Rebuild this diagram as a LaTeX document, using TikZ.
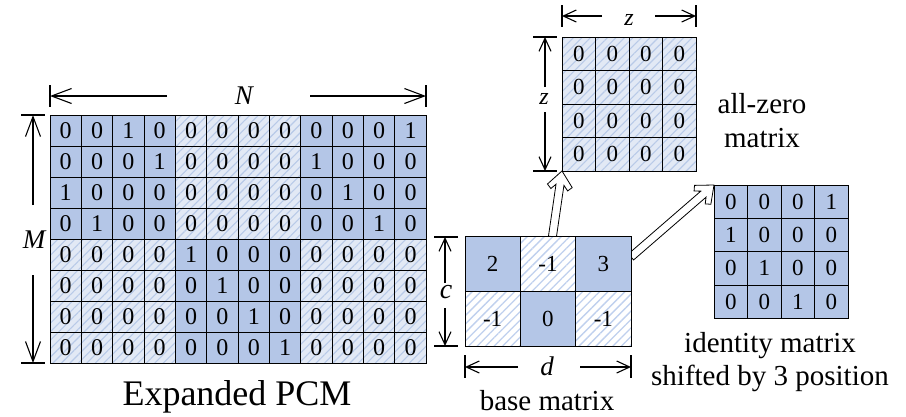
\documentclass[tikz,border=0pt]{standalone}
\usepackage{fontspec}
\setmainfont{Liberation Serif}
\usetikzlibrary{arrows.meta,patterns.meta,calc}
\pgfdeclarelayer{back}
\pgfsetlayers{back,main}

\definecolor{cellblue}{HTML}{B4C6E7}
\definecolor{hatchbg}{HTML}{E2E9F5}
\definecolor{hatchline}{HTML}{B8CAE8}
\definecolor{basehatch}{HTML}{BFD0EE}

\tikzset{
  cellbase/.style={draw=black, line width=0.8pt, inner sep=0pt, outer sep=0pt},
  darkcell/.style={cellbase, fill=cellblue},
  hatchcell/.style={cellbase, preaction={fill=hatchbg},
    pattern={Lines[angle=45,distance=6pt,line width=1.1pt]}, pattern color=hatchline},
  whitehatch/.style={cellbase, preaction={fill=white},
    pattern={Lines[angle=45,distance=6pt,line width=1.3pt]}, pattern color=basehatch},
  pcmcell/.style={minimum width=31.35pt, minimum height=31pt, font=\fontsize{24}{26}\selectfont},
  smallcell/.style={minimum width=33.5pt, minimum height=33.4pt, font=\fontsize{23}{26}\selectfont},
  basecell/.style={minimum width=55.33pt, minimum height=54.65pt, font=\fontsize{23}{26}\selectfont},
  caption/.style={anchor=base, inner sep=0pt, font=\fontsize{29}{34}\selectfont},
  dimlabel/.style={inner sep=0pt, font=\fontsize{27}{30}\selectfont\itshape},
  extline/.style={line width=1.1pt},
  dimline/.style={line width=1.1pt, -{Straight Barb[length=13pt,width=12pt]}},
  bigdimline/.style={line width=1.1pt, -{Straight Barb[length=20pt,width=15pt]}},
  hollow/.style={fill=white, draw=black, line width=0.8pt, line join=miter},
}

% outlined block arrow from #1 (tail) to #2 (tip)
\newcommand\hollowarrow[2]{%
  \coordinate (ha-k14) at ($(#2)!14pt!(#1)$);
  \coordinate (ha-k15) at ($(#2)!15pt!(#1)$);
  \coordinate (ha-k19) at ($(#2)!19pt!(#1)$);
  \begin{pgfonlayer}{back}
  \filldraw[hollow]
    ($(#1)!4pt!90:(#2)$) -- ($(ha-k14)!4pt!90:(#2)$) -- ($(ha-k19)!8.5pt!90:(#2)$)
    -- ($(ha-k15)!12.5pt!90:(#2)$) -- (#2) -- ($(ha-k15)!12.5pt!-90:(#2)$)
    -- ($(ha-k19)!8.5pt!-90:(#2)$) -- ($(ha-k14)!4pt!-90:(#2)$)
    -- ($(#1)!4pt!-90:(#2)$) -- cycle;
  \end{pgfonlayer}
}

\begin{document}
\begin{tikzpicture}[x=1pt,y=-1pt]
\useasboundingbox (0,0) rectangle (906,416);

% ---------------- expanded parity-check matrix ----------------
\foreach \rowvals [count=\r] in {
  {0,0,1,0,0,0,0,0,0,0,0,1},
  {0,0,0,1,0,0,0,0,1,0,0,0},
  {1,0,0,0,0,0,0,0,0,1,0,0},
  {0,1,0,0,0,0,0,0,0,0,1,0},
  {0,0,0,0,1,0,0,0,0,0,0,0},
  {0,0,0,0,0,1,0,0,0,0,0,0},
  {0,0,0,0,0,0,1,0,0,0,0,0},
  {0,0,0,0,0,0,0,1,0,0,0,0}} {
  \foreach \v [count=\c] in \rowvals {
    \pgfmathtruncatemacro\blk{or(and(\r<5,or(\c<5,\c>8)),and(\r>4,and(\c>4,\c<9)))}
    \ifnum\blk=1 \tikzset{pcmkind/.style={darkcell}}\else\tikzset{pcmkind/.style={hatchcell}}\fi
    \node[pcmkind, pcmcell] (pcm-\r-\c) at ({50+(\c-0.5)*31.35}, {115+(\r-0.5)*31}) {\v};
  }
}
\node[anchor=base, inner sep=0pt, font=\fontsize{36}{40}\selectfont] (pcm-cap) at (237,405) {Expanded PCM};

% width N
\coordinate (N-l1) at (50,85);  \coordinate (N-l2) at (50,107);
\coordinate (N-r1) at (426,85); \coordinate (N-r2) at (426,107);
\draw[extline] (N-l1) -- (N-l2);
\draw[extline] (N-r1) -- (N-r2);
\node[dimlabel] (N-lbl) at (244,96) {N};
\coordinate (N-a) at (167,96); \coordinate (N-ae) at (50,96);
\coordinate (N-b) at (310,96); \coordinate (N-be) at (426,96);
\draw[bigdimline] (N-a) -- (N-ae);
\draw[bigdimline] (N-b) -- (N-be);

% height M
\coordinate (M-t1) at (21,115); \coordinate (M-t2) at (45,115);
\coordinate (M-b1) at (21,363); \coordinate (M-b2) at (45,363);
\draw[extline] (M-t1) -- (M-t2);
\draw[extline] (M-b1) -- (M-b2);
\node[dimlabel] (M-lbl) at (34,240) {M};
\coordinate (M-a) at (33,205); \coordinate (M-ae) at (33,115);
\coordinate (M-b) at (33,275); \coordinate (M-be) at (33,363);
\draw[bigdimline] (M-a) -- (M-ae);
\draw[bigdimline] (M-b) -- (M-be);

% ---------------- base matrix ----------------
\node[darkcell,   basecell] (base-1-1) at ({465+0.5*55.33},{236.7+0.5*54.65}) {2};
\node[whitehatch, basecell] (base-1-2) at ({465+1.5*55.33},{236.7+0.5*54.65}) {-1};
\node[darkcell,   basecell] (base-1-3) at ({465+2.5*55.33},{236.7+0.5*54.65}) {3};
\node[whitehatch, basecell] (base-2-1) at ({465+0.5*55.33},{236.7+1.5*54.65}) {-1};
\node[darkcell,   basecell] (base-2-2) at ({465+1.5*55.33},{236.7+1.5*54.65}) {0};
\node[whitehatch, basecell] (base-2-3) at ({465+2.5*55.33},{236.7+1.5*54.65}) {-1};
\node[caption] (base-cap) at (547,410) {base matrix};

% height c
\coordinate (c-t1) at (434,237); \coordinate (c-t2) at (458,237);
\coordinate (c-b1) at (434,346); \coordinate (c-b2) at (458,346);
\draw[extline] (c-t1) -- (c-t2);
\draw[extline] (c-b1) -- (c-b2);
\node[dimlabel, font=\fontsize{28}{30}\selectfont\itshape] (c-lbl) at (446,292) {c};
\coordinate (c-a) at (445,283); \coordinate (c-ae) at (445,237);
\coordinate (c-b) at (445,308); \coordinate (c-be) at (445,346);
\draw[dimline] (c-a) -- (c-ae);
\draw[dimline] (c-b) -- (c-be);

% width d
\coordinate (d-l1) at (465,355); \coordinate (d-l2) at (465,378);
\coordinate (d-r1) at (631,355); \coordinate (d-r2) at (631,378);
\draw[extline] (d-l1) -- (d-l2);
\draw[extline] (d-r1) -- (d-r2);
\node[dimlabel] (d-lbl) at (547,366) {d};
\coordinate (d-a) at (518,367); \coordinate (d-ae) at (465,367);
\coordinate (d-b) at (580,367); \coordinate (d-be) at (631,367);
\draw[dimline] (d-a) -- (d-ae);
\draw[dimline] (d-b) -- (d-be);

% ---------------- all-zero block ----------------
\foreach \r in {1,...,4} {
  \foreach \c in {1,...,4} {
    \node[hatchcell, smallcell] (zero-\r-\c) at ({562+(\c-0.5)*33.5}, {37+(\r-0.5)*33.5}) {0};
  }
}
\node[caption] (zero-cap1) at (762,113) {all-zero};
\node[caption] (zero-cap2) at (762,147) {matrix};

% width z
\coordinate (zt-l1) at (562,5);  \coordinate (zt-l2) at (562,27);
\coordinate (zt-r1) at (696,5);  \coordinate (zt-r2) at (696,27);
\draw[extline] (zt-l1) -- (zt-l2);
\draw[extline] (zt-r1) -- (zt-r2);
\node[dimlabel, font=\fontsize{24}{26}\selectfont\itshape] (zt-lbl) at (629,20) {z};
\coordinate (zt-a) at (602,16); \coordinate (zt-ae) at (562,16);
\coordinate (zt-b) at (655,16); \coordinate (zt-be) at (696,16);
\draw[dimline] (zt-a) -- (zt-ae);
\draw[dimline] (zt-b) -- (zt-be);

% height z
\coordinate (zl-t1) at (533,37);  \coordinate (zl-t2) at (557,37);
\coordinate (zl-b1) at (533,171); \coordinate (zl-b2) at (557,171);
\draw[extline] (zl-t1) -- (zl-t2);
\draw[extline] (zl-b1) -- (zl-b2);
\node[dimlabel, font=\fontsize{24}{26}\selectfont\itshape] (zl-lbl) at (544,99) {z};
\coordinate (zl-a) at (545,87);  \coordinate (zl-ae) at (545,37);
\coordinate (zl-b) at (545,112); \coordinate (zl-be) at (545,171);
\draw[dimline] (zl-a) -- (zl-ae);
\draw[dimline] (zl-b) -- (zl-be);

% ---------------- shifted identity block ----------------
\foreach \rowvals [count=\r] in {{0,0,0,1},{1,0,0,0},{0,1,0,0},{0,0,1,0}} {
  \foreach \v [count=\c] in \rowvals {
    \node[darkcell, smallcell, minimum height=33.3pt] (id-\r-\c) at ({714+(\c-0.5)*33.5}, {185+(\r-0.5)*33.3}) {\v};
  }
}
\node[caption] (id-cap1) at (770,352) {identity matrix};
\node[caption] (id-cap2) at (770,385) {shifted by 3 position};

% ---------------- expansion arrows ----------------
\coordinate (up-tail) at ($(base-1-2.north west)!0.58!(base-1-2.north east)$);
\coordinate (side-tail) at ($(base-1-3.north east)!0.37!(base-1-3.south east)$);
\hollowarrow{up-tail}{zero-4-1.south west}
\hollowarrow{side-tail}{id-1-1.north west}

\end{tikzpicture}
\end{document}
